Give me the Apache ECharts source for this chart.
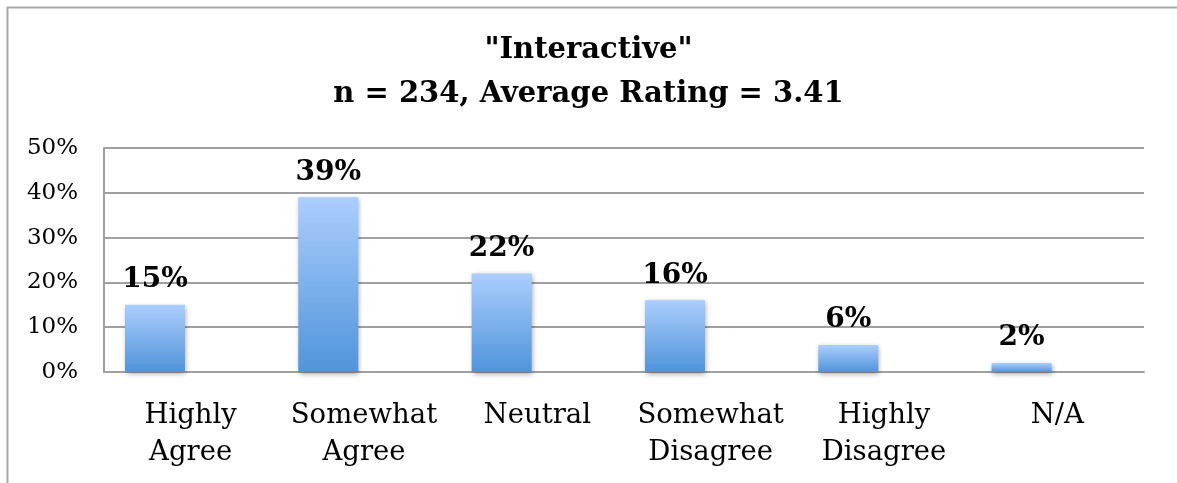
<!DOCTYPE html>
<html>
<head>
<meta charset="utf-8">
<script src="https://cdn.jsdelivr.net/npm/echarts@6/dist/echarts.min.js"></script>
<style>
  html, body { margin: 0; padding: 0; background: #fff; }
  #main { width: 1177px; height: 483px; }
</style>
</head>
<body>
<div id="main"></div>
<script>
var categories = ['Highly\nAgree', 'Somewhat\nAgree', 'Neutral', 'Somewhat\nDisagree', 'Highly\nDisagree', 'N/A'];
var percentValues = [15, 39, 22, 16, 6, 2];
var emptyValues = [null, null, null, null, null, null];
var titleLines = ['"Interactive"', 'n = 234, Average Rating = 3.41'];

var chartDom = document.getElementById('main');
var myChart = echarts.init(chartDom);
var option;

var serif = '"DejaVu Serif", serif';

option = {
  animation: false,
  title: {
    text: titleLines.join('\n'),
    left: 'center',
    top: 23,
    textStyle: {
      fontFamily: serif,
      fontWeight: 'bold',
      fontSize: 29,
      lineHeight: 44,
      color: '#000'
    }
  },
  graphic: [
    {
      type: 'rect',
      shape: { x: 7.5, y: 7.5, width: 1300, height: 600 },
      style: { fill: 'none', stroke: '#a8a8a8', lineWidth: 2 },
      silent: true
    }
  ],
  grid: {
    left: 104,
    right: 33,
    top: 148,
    bottom: 111,
    containLabel: false
  },
  xAxis: {
    type: 'category',
    data: categories,
    axisLine: { show: true, lineStyle: { color: '#a0a0a0', width: 2 } },
    axisTick: { show: false },
    axisLabel: {
      fontFamily: serif,
      fontSize: 27.5,
      lineHeight: 37,
      color: '#000',
      margin: 25,
      interval: 0
    }
  },
  yAxis: {
    type: 'value',
    min: 0,
    max: 50,
    interval: 10,
    axisLine: { show: true, lineStyle: { color: '#a0a0a0', width: 2 } },
    axisTick: { show: false },
    splitLine: { show: true, lineStyle: { color: '#a0a0a0', width: 2 } },
    axisLabel: {
      fontFamily: serif,
      fontSize: 23,
      color: '#000',
      margin: 26,
      formatter: '{value}%'
    }
  },
  series: [
    {
      name: 'Interactive',
      type: 'bar',
      data: percentValues,
      barWidth: 60,
      barGap: '19%',
      itemStyle: {
        color: new echarts.graphic.LinearGradient(0, 0, 0, 1, [
          { offset: 0, color: '#abcefd' },
          { offset: 1, color: '#4f94db' }
        ]),
        shadowColor: 'rgba(0,0,0,0.35)',
        shadowBlur: 5,
        shadowOffsetX: 1,
        shadowOffsetY: 2
      },
      label: {
        show: true,
        position: 'top',
        distance: 11,
        formatter: '{c}%',
        fontFamily: serif,
        fontWeight: 'bold',
        fontSize: 28,
        color: '#000'
      }
    },
    {
      name: 'blank',
      type: 'bar',
      data: emptyValues,
      barWidth: 60
    }
  ]
};

option && myChart.setOption(option);
</script>
</body>
</html>
